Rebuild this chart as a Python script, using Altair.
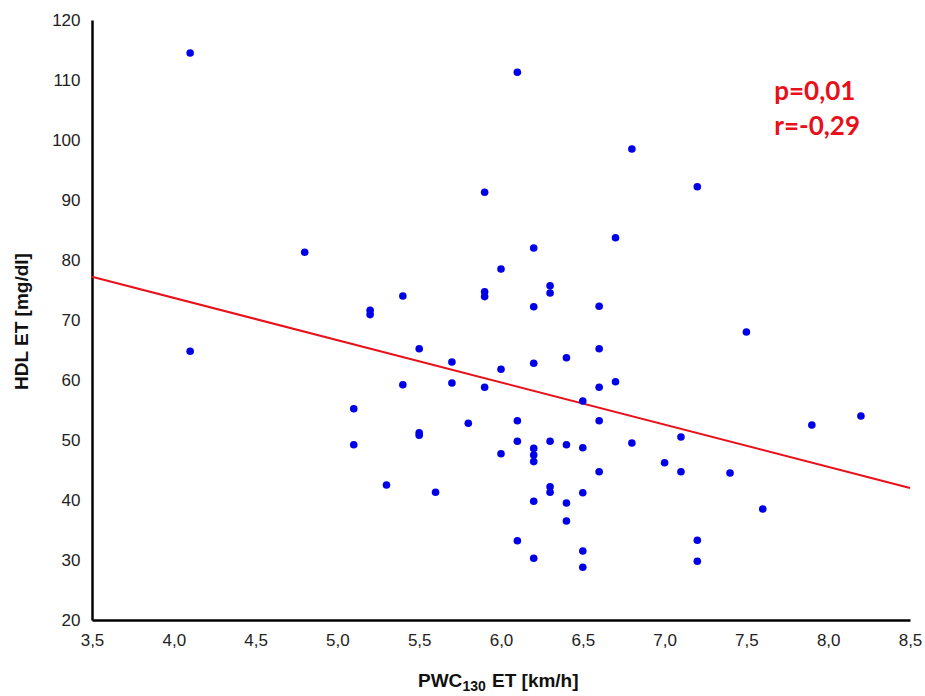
import altair as alt
import pandas as pd

# PWC130 ET [km/h] and HDL ET [mg/dl] for each subject
pwc = [4.1, 4.1, 4.8, 5.1, 5.1, 5.2, 5.2, 5.3, 5.4, 5.4,
       5.5, 5.5, 5.5, 5.6, 5.7, 5.7, 5.8, 5.9, 5.9, 5.9,
       5.9, 6.0, 6.0, 6.0, 6.1, 6.1, 6.1, 6.1, 6.2, 6.2,
       6.2, 6.2, 6.2, 6.2, 6.2, 6.2, 6.3, 6.3, 6.3, 6.3,
       6.3, 6.4, 6.4, 6.4, 6.4, 6.5, 6.5, 6.5, 6.5, 6.5,
       6.6, 6.6, 6.6, 6.6, 6.6, 6.7, 6.7, 6.8, 6.8, 7.0,
       7.1, 7.1, 7.2, 7.2, 7.2, 7.4, 7.5, 7.6, 7.9, 8.2]
hdl = [114.5, 64.8, 81.3, 55.2, 49.2, 71.6, 70.9, 42.5, 74.0, 59.2,
       65.2, 51.2, 50.8, 41.3, 63.0, 59.5, 52.8, 91.3, 74.7, 73.9,
       58.8, 78.5, 61.8, 47.7, 111.3, 53.2, 49.8, 33.2, 82.0, 72.2,
       62.8, 48.6, 47.5, 46.4, 39.8, 30.3, 75.7, 74.5, 49.8, 42.2,
       41.3, 63.7, 49.2, 39.5, 36.5, 56.5, 48.7, 41.2, 31.5, 28.8,
       72.3, 65.2, 58.8, 53.2, 44.7, 83.7, 59.7, 98.5, 49.5, 46.2,
       50.5, 44.7, 92.2, 33.3, 29.8, 44.5, 68.0, 38.5, 52.5, 54.0]

# Fitted regression line end points
fit_x = [3.5, 8.5]
fit_y = [77.2, 42.0]

# Statistics annotation
stats_lines = ["p=0,01", "r=-0,29"]
stats_x = [7.67, 7.67]
stats_y = [108.0, 102.1]

x_ticks = [3.5, 4.0, 4.5, 5.0, 5.5, 6.0, 6.5, 7.0, 7.5, 8.0, 8.5]
y_ticks = [20, 30, 40, 50, 60, 70, 80, 90, 100, 110, 120]

points = pd.DataFrame({"pwc": pwc, "hdl": hdl})
fit = pd.DataFrame({"pwc": fit_x, "hdl": fit_y})
stats = pd.DataFrame({"pwc": stats_x, "hdl": stats_y, "label": stats_lines})

x_scale = alt.Scale(domain=[3.5, 8.5], nice=False, zero=False)
y_scale = alt.Scale(domain=[20, 120], nice=False, zero=False)

label_font = "Liberation Sans"
title_color = "#111"

x_axis = alt.Axis(
    values=x_ticks,
    labelExpr="replace(format(datum.value, '.1f'), '.', ',')",
    title=None,
    labelFont=label_font, labelFontSize=17, labelColor="#222", labelPadding=12,
    labelFlush=False,
    ticks=False, tickSize=0, grid=False,
    domainColor="#000", domainWidth=2.5,
)
y_axis = alt.Axis(
    values=y_ticks,
    format="d",
    title="HDL ET [mg/dl]",
    titleX=-71, titleY=301, titleAlign="center", titleBaseline="middle", titleAngle=-90,
    titleFont=label_font, titleFontSize=19, titleFontWeight="bold", titleColor=title_color,
    labelFont=label_font, labelFontSize=17, labelColor="#222", labelPadding=12,
    labelFlush=False,
    ticks=False, tickSize=0, grid=False,
    domainColor="#000", domainWidth=2.5,
)

dots = alt.Chart(points).mark_circle(size=58, color="#0000e8", opacity=1).encode(
    x=alt.X("pwc:Q", scale=x_scale, axis=x_axis),
    y=alt.Y("hdl:Q", scale=y_scale, axis=y_axis),
)

line = alt.Chart(fit).mark_line(color="#e8101a", strokeWidth=2).encode(
    x=alt.X("pwc:Q", scale=x_scale),
    y=alt.Y("hdl:Q", scale=y_scale),
)

text = alt.Chart(stats).mark_text(
    align="left", baseline="middle", font="Lato", fontSize=26,
    fontWeight="bold", color="#e8101a",
).encode(
    x=alt.X("pwc:Q", scale=x_scale),
    y=alt.Y("hdl:Q", scale=y_scale),
    text="label:N",
)

# x-axis title with a subscript "130", set as three runs of text
anchor = pd.DataFrame({"k": [0]})
title_main = alt.Chart(anchor).mark_text(
    text="PWC", align="left", baseline="alphabetic", font=label_font,
    fontSize=19, fontWeight="bold", color=title_color,
).encode(x=alt.value(326), y=alt.value(667))
title_sub = alt.Chart(anchor).mark_text(
    text="130", align="left", baseline="alphabetic", font=label_font,
    fontSize=14, fontWeight="bold", color=title_color,
).encode(x=alt.value(370.5), y=alt.value(671))
title_rest = alt.Chart(anchor).mark_text(
    text="ET [km/h]", align="left", baseline="alphabetic", font=label_font,
    fontSize=19, fontWeight="bold", color=title_color,
).encode(x=alt.value(400), y=alt.value(667))

chart = alt.layer(line, dots, text, title_main, title_sub, title_rest).properties(
    width=818,
    height=600,
    autosize=alt.AutoSizeParams(type="none"),
    padding={"left": 92, "top": 20, "right": 15, "bottom": 76},
    background="white",
).configure_view(stroke=None)

chart.save("out.html", embed_options={"renderer": "svg", "actions": False})
